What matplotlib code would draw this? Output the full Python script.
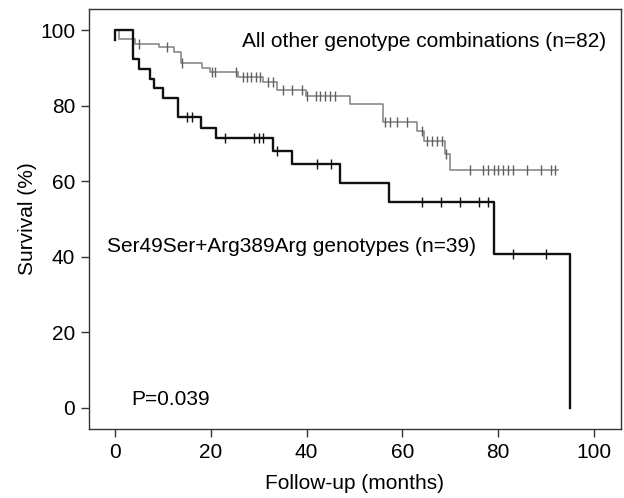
import numpy as np
import matplotlib
matplotlib.use("Agg")
import matplotlib.pyplot as plt

plt.rcParams["font.family"] = ["Liberation Sans", "DejaVu Sans"]

# Ser49Ser+Arg389Arg genotypes (n=39): step times (months) and survival (%)
t_ser = [0, 0, 3.8, 5.1, 7.3, 8.1, 10.0, 13.1, 18.0, 21.1, 32.9, 37.0, 47.0, 57.1, 79.0, 95.0]
s_ser = [97.4, 100, 92.3, 89.7, 87.2, 84.6, 82.1, 76.9, 74.2, 71.4, 68.1, 64.5, 59.6, 54.6, 40.7, 0]
c_ser = [15.1, 16.0, 23.0, 29.1, 30.1, 31.0, 33.9, 42.1, 45.0,
         64.0, 68.1, 72.0, 76.0, 77.9, 83.0, 90.0]

# All other genotype combinations (n=82)
t_oth = [0, 0.9, 4.2, 9.2, 12.3, 13.9, 18.1, 19.8, 25.7, 31.0, 33.9, 39.9,
         49.1, 56.0, 63.0, 64.5, 68.9, 69.9, 92.5]
s_oth = [100, 97.6, 96.4, 95.6, 94.3, 91.4, 90.1, 88.8, 87.7, 86.3, 84.2, 82.5,
         80.4, 75.7, 73.4, 70.7, 67.1, 63.1, 63.1]
c_oth = [5.1, 10.9, 14.1, 20.2, 20.9, 25.3, 26.8, 27.6, 28.5, 29.4, 30.3,
         31.9, 32.9, 35.0, 37.0, 39.0, 40.0, 42.0, 42.9, 43.8, 44.9, 45.9,
         56.3, 57.4, 58.9, 60.9, 64.0, 65.1, 66.1, 67.2, 68.2, 69.1,
         74.0, 76.9, 77.9, 79.0, 80.0, 81.0, 82.0, 83.0, 85.9, 89.0, 90.9, 91.9]

x_ticks = [0, 20, 40, 60, 80, 100]
y_ticks = [0, 20, 40, 60, 80, 100]


def surv_at(times, surv, c):
    idx = np.searchsorted(times, c, side="right") - 1
    return np.asarray(surv)[idx]


fig = plt.figure(figsize=(6.24, 4.98), dpi=100)
ax = fig.add_axes([0.1426, 0.1386, 0.8526, 0.8433])

gray_line = "#8a8a8a"
ax.step(t_oth, s_oth, where="post", color=gray_line, lw=1.2, zorder=2)
ax.plot(c_oth, surv_at(t_oth, s_oth, c_oth), ls="none", marker="|",
        ms=7, mew=1.0, color="#606060", zorder=2)

ax.step(t_ser, s_ser, where="post", color="#111111", lw=1.7, zorder=3)
ax.plot(c_ser, surv_at(t_ser, s_ser, c_ser), ls="none", marker="|",
        ms=7, mew=1.0, color="#111111", zorder=3)

fs = 15
ax.text(26.5, 97.1, "All other genotype combinations (n=82)", fontsize=fs,
        ha="left", va="center")
ax.text(-1.7, 42.6, "Ser49Ser+Arg389Arg genotypes (n=39)", fontsize=fs,
        ha="left", va="center")
ax.text(3.5, 2.2, "P=0.039", fontsize=fs, ha="left", va="center")

ax.set_xlim(-5.4, 105.6)
ax.set_ylim(-5.6, 105.6)
ax.set_xticks(x_ticks)
ax.set_yticks(y_ticks)
ax.tick_params(labelsize=fs, length=6, width=1, color="#333333", pad=4)
for sp in ax.spines.values():
    sp.set_linewidth(1.0)
    sp.set_color("#333333")

ax.set_xlabel("Follow-up (months)", fontsize=fs, labelpad=9)
ax.set_ylabel("Survival (%)", fontsize=fs, labelpad=2)

fig.savefig("out.png", dpi=100)
